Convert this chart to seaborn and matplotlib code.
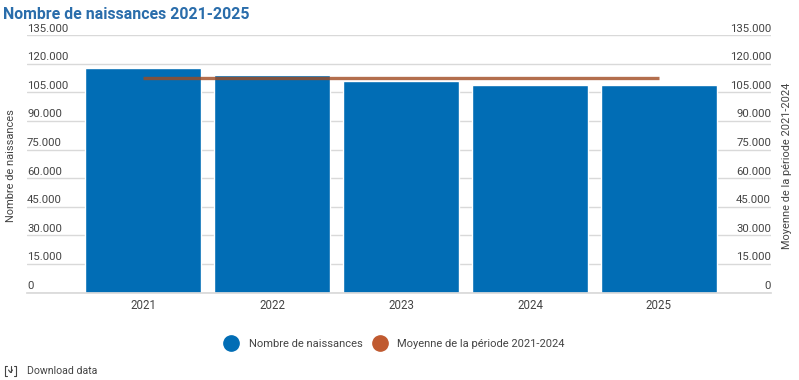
import matplotlib
matplotlib.use("Agg")
import matplotlib.pyplot as plt
import matplotlib.transforms as mtrans
from matplotlib.lines import Line2D
import pandas as pd
import seaborn as sns

# values
years = ['2021', '2022', '2023', '2024', '2025']
births = [118000, 113900, 110700, 108600, 109100]
average = [112600, 112600, 112600, 112600, 112600]
y_ticks = [0, 15000, 30000, 45000, 60000, 75000, 90000, 105000, 120000, 135000]
y_labels = ['0', '15.000', '30.000', '45.000', '60.000', '75.000', '90.000', '105.000', '120.000', '135.000']

BLUE = '#016db5'
ORANGE = '#c05a30'
TEXT = '#444444'
W, H = 799, 380
X_RANGE = (-0.902, 4.87)

sns.set_theme(style='white')
plt.rcParams['font.family'] = ['Roboto', 'DejaVu Sans']

df = pd.DataFrame({'year': years, 'births': births, 'average': average})

fig = plt.figure(figsize=(W / 100, H / 100), dpi=100, facecolor='white')
ax = fig.add_axes([27 / W, 1 - 292.6 / H, (771 - 27) / W, (292.6 - 35.1) / H])

sns.barplot(data=df, x='year', y='births', color=BLUE, saturation=1, width=0.9, ax=ax, zorder=2)
ax.set_xlim(*X_RANGE)
ax.set_ylim(0, 135000)
ax.set_yticks(y_ticks)
ax.set_yticklabels([])
ax.grid(axis='y', color='#d9d9d9', lw=1, zorder=0)
ax.set_axisbelow(True)
ax.set_xlabel('')
ax.set_ylabel('')
ax.tick_params(axis='x', length=0, labelsize=8.3, labelcolor=TEXT, pad=4.5)
ax.tick_params(axis='y', length=0)
sns.despine(ax=ax, left=True, top=True, right=True)
ax.spines['bottom'].set_color('#d9d9d9')

# tick labels sit inside the plot, just above their grid lines
up = mtrans.offset_copy(ax.get_yaxis_transform(), fig=fig, y=4.7, units='points')
for val, lab in zip(y_ticks, y_labels):
    ax.text(0, val, lab, transform=up, ha='left', va='center', fontsize=8.2, color=TEXT)
    ax.text(1, val, lab, transform=up, ha='right', va='center', fontsize=8.2, color=TEXT)

ax2 = ax.twinx()
sns.lineplot(data=df, x='year', y='average', color='#a04a20', lw=2.4, alpha=0.8, ax=ax2, solid_capstyle='butt')
ax2.set_xlim(*X_RANGE)
ax2.set_ylim(0, 135000)
ax2.set_yticks([])
ax2.set_xlabel('')
ax2.set_ylabel('')
ax2.grid(False)
sns.despine(ax=ax2, left=True, top=True, right=True, bottom=True)

# titles and axis names
fig.text(3 / W, 1 - 14.5 / H, 'Nombre de naissances 2021-2025', fontsize=11.45, fontweight='bold',
         color='#2a6dab', va='center', ha='left')
fig.text(11 / W, 1 - 166 / H, 'Nombre de naissances', fontsize=7.9, color=TEXT, rotation=90, ha='center', va='center')
fig.text(787 / W, 1 - 166 / H, 'Moyenne de la période 2021-2024', fontsize=7.9, color=TEXT, rotation=90, ha='center', va='center')

# legend
handles = [Line2D([], [], ls='', marker='o', ms=11, color=BLUE),
           Line2D([], [], ls='', marker='o', ms=11, color=ORANGE)]
fig.legend(handles, ['Nombre de naissances', 'Moyenne de la période 2021-2024'],
           loc='center', bbox_to_anchor=(392.5 / W, 1 - 344 / H), ncol=2, frameon=False, fontsize=8,
           labelcolor=TEXT, handletextpad=0.6, columnspacing=0.5)

# download link
fig.text(27 / W, 1 - 371 / H, 'Download data', fontsize=7.6, color=TEXT, va='center', ha='left')
for xs, ys in [([7, 5, 5, 7], [365.5, 365.5, 375.5, 375.5]), ([14, 16, 16, 14], [365.5, 365.5, 375.5, 375.5]),
               ([10.5, 10.5], [366, 372]), ([8.5, 10.5, 12.5], [370, 372.5, 370])]:
    fig.add_artist(Line2D([x / W for x in xs], [1 - y / H for y in ys], color='#444444', lw=0.8))

fig.savefig('out.png', dpi=100)
